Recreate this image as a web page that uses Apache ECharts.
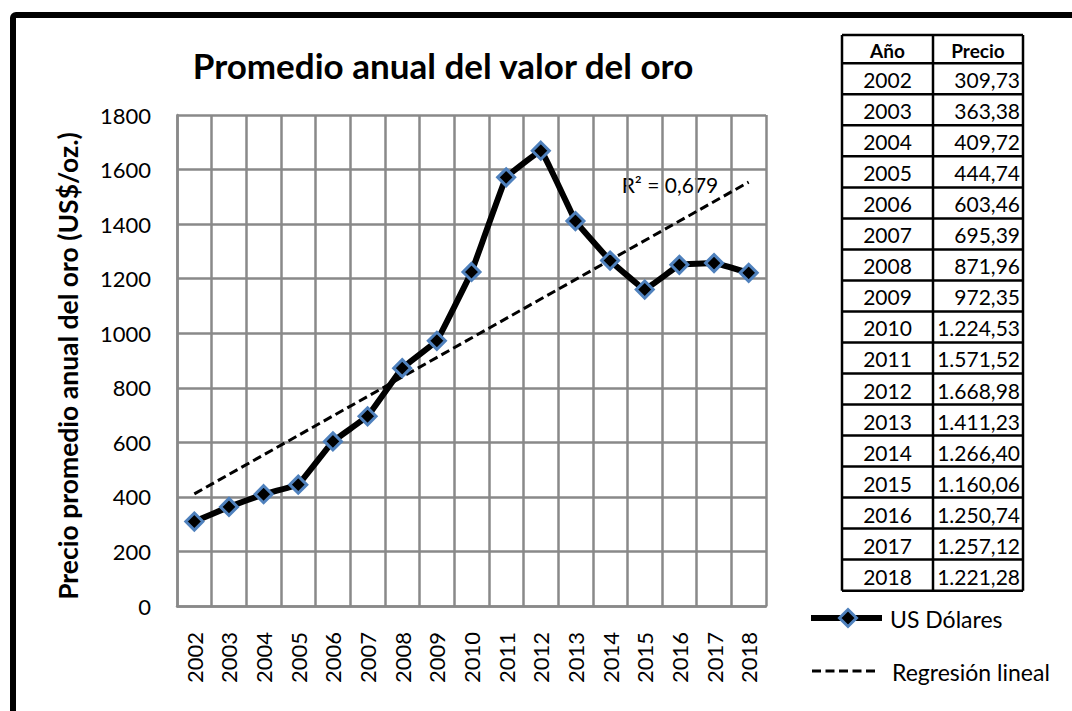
<!DOCTYPE html>
<html>
<head>
<meta charset="utf-8">
<script src="https://cdn.jsdelivr.net/npm/echarts@6/dist/echarts.min.js"></script>
<style>
html,body{margin:0;padding:0;background:#fff;}
#chart{width:1072px;height:711px;}
</style>
</head>
<body>
<div id="chart"></div>
<script>
const categories = ['2002','2003','2004','2005','2006','2007','2008','2009','2010','2011','2012','2013','2014','2015','2016','2017','2018'];
const prices = [309.73,363.38,409.72,444.74,603.46,695.39,871.96,972.35,1224.53,1571.52,1668.98,1411.23,1266.40,1160.06,1250.74,1257.12,1221.28];
const trendStart = 411;
const trendEnd = 1554;
const yTicks = {min:0, max:1800, interval:200};
const tableHeader = ['Año','Precio'];
const legendNames = ['US Dólares','Regresión lineal'];
const r2Label = 'R² = 0,679';
const titleText = 'Promedio anual del valor del oro';
const yAxisName = 'Precio promedio anual del oro (US$/oz.)';

const FONT = 'Lato';
const DIAMOND = 'path://M0,-1 L1,0 L0,1 L-1,0 Z';

function fmtEs(v){
  const parts = v.toFixed(2).split('.');
  const intp = parts[0].replace(/\B(?=(\d{3})+(?!\d))/g,'.');
  return intp + ',' + parts[1];
}

const trendData = categories.map((c,i)=> i===0 ? trendStart : (i===categories.length-1 ? trendEnd : '-'));

const tX0 = 842, tX1 = 933, tX2 = 1023;
const tTop = 35, headerH = 28.3, rowH = 31.02;
const tBottom = tTop + headerH + rowH*categories.length;
const g = [];
// outer frame
g.push({type:'rect', shape:{x:13,y:15,width:1200,height:1000,r:3}, style:{fill:'none',stroke:'#000',lineWidth:6}, silent:true});
// title
g.push({type:'text', x:443, y:65, style:{text:titleText, font:'bold 35px '+FONT, fill:'#000', textAlign:'center', textVerticalAlign:'middle'}});
// y axis title
g.push({type:'text', x:68, y:366, rotation:Math.PI/2, style:{text:yAxisName, font:'bold 26.5px '+FONT, fill:'#000', textAlign:'center', textVerticalAlign:'middle'}});
// R2
g.push({type:'text', x:670, y:184, style:{text:r2Label, font:'21px '+FONT, fill:'#000', textAlign:'center', textVerticalAlign:'middle'}});
// table
const tl = {stroke:'#000', lineWidth:2.5};
[tX0,tX1,tX2].forEach(x=>g.push({type:'line', shape:{x1:x,y1:tTop,x2:x,y2:tBottom}, style:tl}));
for(let i=0;i<=categories.length+1;i++){
  const y = i===0 ? tTop : tTop+headerH+rowH*(i-1);
  g.push({type:'line', shape:{x1:tX0,y1:y,x2:tX2,y2:y}, style:tl});
}
g.push({type:'text', x:(tX0+tX1)/2, y:tTop+headerH/2+1, style:{text:tableHeader[0], font:'bold 19px '+FONT, fill:'#000', textAlign:'center', textVerticalAlign:'middle'}});
g.push({type:'text', x:(tX1+tX2)/2, y:tTop+headerH/2+1, style:{text:tableHeader[1], font:'bold 19px '+FONT, fill:'#000', textAlign:'center', textVerticalAlign:'middle'}});
categories.forEach((c,i)=>{
  const yc = tTop+headerH+rowH*i+rowH/2+1;
  g.push({type:'text', x:(tX0+tX1)/2, y:yc, style:{text:c, font:'21px '+FONT, fill:'#000', textAlign:'center', textVerticalAlign:'middle'}});
  g.push({type:'text', x:tX2-3, y:yc, style:{text:fmtEs(prices[i]), font:'21px '+FONT, fill:'#000', textAlign:'right', textVerticalAlign:'middle'}});
});
// legend (drawn manually)
g.push({type:'line', shape:{x1:811,y1:618,x2:882,y2:618}, style:{stroke:'#000', lineWidth:6}});
g.push({type:'polygon', shape:{points:[[848,609.5],[856.5,618],[848,626.5],[839.5,618]]}, style:{fill:'#000', stroke:'#4F81BD', lineWidth:3}});
g.push({type:'text', x:890, y:619, style:{text:legendNames[0], font:'23px '+FONT, fill:'#000', textAlign:'left', textVerticalAlign:'middle'}});
g.push({type:'line', shape:{x1:812,y1:671,x2:879,y2:671}, style:{stroke:'#000', lineWidth:3, lineDash:[9,4.5]}});
g.push({type:'text', x:892, y:672, style:{text:legendNames[1], font:'23px '+FONT, fill:'#000', textAlign:'left', textVerticalAlign:'middle'}});

const chart = echarts.init(document.getElementById('chart'), null, {renderer:'svg'});
chart.setOption({
  animation:false,
  backgroundColor:'#fff',
  textStyle:{fontFamily:FONT},
  grid:{left:177, right:306, top:115, bottom:105, containLabel:false},
  xAxis:{
    type:'category', data:categories, boundaryGap:true,
    axisLine:{show:true, lineStyle:{color:'#898989', width:2.5}},
    axisTick:{show:false},
    axisLabel:{rotate:90, interval:0, margin:26, fontFamily:FONT, fontSize:22, color:'#000'},
    splitLine:{show:true, interval:0, lineStyle:{color:'#898989', width:2.5}}
  },
  yAxis:{
    type:'value', min:yTicks.min, max:yTicks.max, interval:yTicks.interval,
    axisLine:{show:true, lineStyle:{color:'#898989', width:2.5}},
    axisTick:{show:false},
    axisLabel:{margin:26, fontFamily:FONT, fontSize:22, color:'#000', formatter:v=>String(v)},
    splitLine:{show:true, lineStyle:{color:'#898989', width:2.5}}
  },
  series:[
    {
      name:legendNames[1], type:'line', data:trendData, connectNulls:true,
      showSymbol:false, symbol:'none',
      lineStyle:{color:'#000', width:3, type:[9,4.5]},
      itemStyle:{color:'#000'}, z:2
    },
    {
      name:legendNames[0], type:'line', data:prices, smooth:0.05,
      symbol:DIAMOND, symbolSize:17,
      lineStyle:{color:'#000', width:6},
      itemStyle:{color:'#000', borderColor:'#4F81BD', borderWidth:3},
      z:3
    }
  ],
  graphic:g
});
</script>
</body>
</html>
